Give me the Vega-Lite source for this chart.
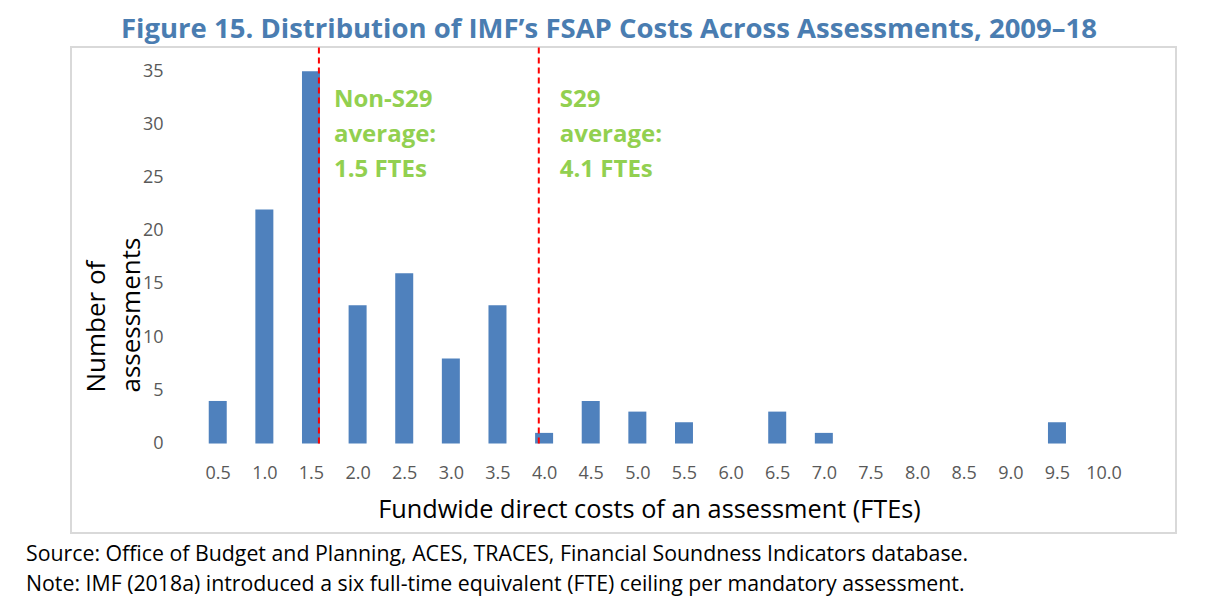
{
  "$schema": "https://vega.github.io/schema/vega-lite/v6.json",
  "padding": {"left": 25, "top": 15, "right": 0, "bottom": 0},
  "background": "white",
  "config": {
    "font": "Open Sans",
    "view": {"stroke": "#d9d9d9", "strokeWidth": 2}
  },
  "title": {
    "text": "Figure 15. Distribution of IMF’s FSAP Costs Across Assessments, 2009–18",
    "font": "Open Sans",
    "fontSize": 27.5,
    "fontWeight": "bold",
    "color": "#4A7DB1",
    "anchor": "middle",
    "dx": 8,
    "offset": -20,
    "baseline": "alphabetic"
  },
  "vconcat": [
    {
      "width": 1105,
      "height": 486,
      "title": {
        "text": [
          "Source: Office of Budget and Planning, ACES, TRACES, Financial Soundness Indicators database.",
          "Note: IMF (2018a) introduced a six full-time equivalent (FTE) ceiling per mandatory assessment."
        ],
        "orient": "bottom",
        "anchor": "start",
        "dx": -45,
        "offset": 11,
        "font": "Open Sans",
        "fontSize": 21.3,
        "fontWeight": "normal",
        "color": "#000000",
        "lineHeight": 30,
        "baseline": "top"
      },
      "layer": [
        {
          "mark": {"type": "rule", "color": "#d9d9d9", "strokeWidth": 1.5},
          "encoding": {
            "x": {"datum": 0.25, "type": "quantitative", "scale": {"domain": [-1.02, 10.723], "nice": false, "zero": false}},
            "x2": {"datum": 10.25},
            "y": {"datum": 0, "type": "quantitative", "scale": {"domain": [-8.41, 37.27], "nice": false, "zero": false}}
          }
        },
        {
          "data": {
            "values": [
              {"fte": 0.5, "count": 4},
              {"fte": 1.0, "count": 22},
              {"fte": 1.5, "count": 35},
              {"fte": 2.0, "count": 13},
              {"fte": 2.5, "count": 16},
              {"fte": 3.0, "count": 8},
              {"fte": 3.5, "count": 13},
              {"fte": 4.0, "count": 1},
              {"fte": 4.5, "count": 4},
              {"fte": 5.0, "count": 3},
              {"fte": 5.5, "count": 2},
              {"fte": 6.0, "count": 0},
              {"fte": 6.5, "count": 3},
              {"fte": 7.0, "count": 1},
              {"fte": 7.5, "count": 0},
              {"fte": 8.0, "count": 0},
              {"fte": 8.5, "count": 0},
              {"fte": 9.0, "count": 0},
              {"fte": 9.5, "count": 2},
              {"fte": 10.0, "count": 0}
            ]
          },
          "mark": {"type": "bar", "size": 18, "color": "#4F81BD"},
          "encoding": {
            "x": {
              "field": "fte",
              "type": "quantitative",
              "scale": {"domain": [-1.02, 10.723], "nice": false, "zero": false},
              "axis": {
                "values": [0.5, 1.0, 1.5, 2.0, 2.5, 3.0, 3.5, 4.0, 4.5, 5.0, 5.5, 6.0, 6.5, 7.0, 7.5, 8.0, 8.5, 9.0, 9.5, 10.0],
                "format": ".1f",
                "offset": -89.5,
                "domain": false,
                "ticks": false,
                "grid": false,
                "labelFontSize": 18,
                "labelColor": "#595959",
                "labelFont": "Open Sans",
                "labelPadding": 30,
                "labelBaseline": "middle",
                "title": "Fundwide direct costs of an assessment (FTEs)",
                "titleFont": "Open Sans",
                "titleFontSize": 25.3,
                "titleFontWeight": "normal",
                "titleColor": "#000000",
                "titleBaseline": "alphabetic",
                "titleX": 578,
                "titleY": 74
              }
            },
            "y": {
              "field": "count",
              "type": "quantitative",
              "scale": {"domain": [-8.41, 37.27], "nice": false, "zero": false},
              "axis": {
                "values": [0, 5, 10, 15, 20, 25, 30, 35],
                "offset": -120,
                "domain": false,
                "ticks": false,
                "grid": false,
                "labelFontSize": 18,
                "labelColor": "#595959",
                "labelFont": "Open Sans",
                "labelPadding": 28,
                "title": ["Number of", "assessments"],
                "titleFont": "Open Sans",
                "titleFontSize": 26,
                "titleFontWeight": "normal",
                "titleColor": "#000000",
                "titleAngle": -90,
                "titleAlign": "left",
                "titleBaseline": "alphabetic",
                "titleLineHeight": 35,
                "titleX": -87,
                "titleY": 345
              }
            },
            "y2": {"datum": 0}
          }
        },
        {
          "data": {
            "values": [
              {"avg": 1.585, "group": "non", "label": "Non-S29\naverage:\n1.5 FTEs"},
              {"avg": 3.943, "group": "s29", "label": "S29\naverage:\n4.1 FTEs"}
            ]
          },
          "layer": [
            {
              "mark": {"type": "rule", "color": "#FF0000", "strokeWidth": 2, "strokeDash": [6, 4]},
              "encoding": {
                "x": {"field": "avg", "type": "quantitative"},
                "y": {"datum": 0, "type": "quantitative"},
                "y2": {"datum": 37.27}
              }
            },
            {
              "transform": [{"filter": "datum.group == 'non'"}],
              "mark": {"type": "text", "align": "left", "baseline": "alphabetic", "dx": 15, "font": "Open Sans", "fontSize": 24, "fontWeight": "bold", "color": "#92D050", "lineBreak": "\n", "lineHeight": 35},
              "encoding": {
                "x": {"field": "avg", "type": "quantitative"},
                "y": {"datum": 31.6, "type": "quantitative"},
                "text": {"field": "label"}
              }
            },
            {
              "transform": [{"filter": "datum.group == 's29'"}],
              "mark": {"type": "text", "align": "left", "baseline": "alphabetic", "dx": 21, "font": "Open Sans", "fontSize": 24, "fontWeight": "bold", "color": "#92D050", "lineBreak": "\n", "lineHeight": 35},
              "encoding": {
                "x": {"field": "avg", "type": "quantitative"},
                "y": {"datum": 31.6, "type": "quantitative"},
                "text": {"field": "label"}
              }
            }
          ]
        }
      ]
    }
  ]
}
